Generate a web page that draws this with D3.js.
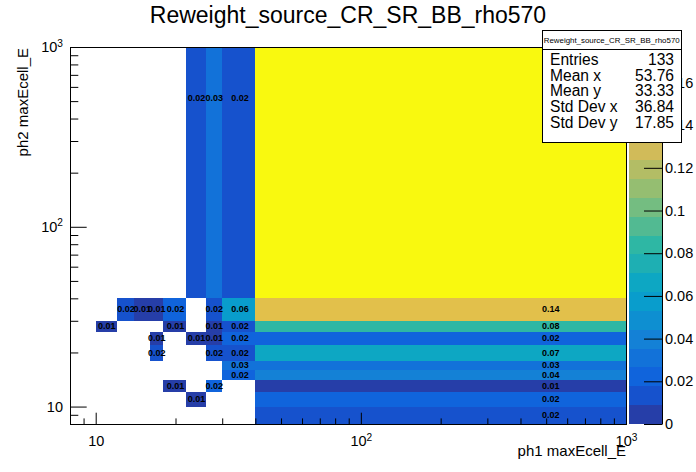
<html>

<head>
    <style>
        body { margin: 0; background: white; }
        text { font-family: "Liberation Sans", Arial, sans-serif; fill: black; }
        .cellText { font-size: 9px; font-weight: bold; }
        .tick line, .domain { stroke: black; }
    </style>
</head>

<body>
    <svg id="container" height="472" width="696"></svg>
</body>
<script src="https://cdn.jsdelivr.net/npm/d3@7"></script>
<script>
    // bin edges, same binning on both axes
    let xEdges = [8, 10, 12, 14, 16, 18, 22, 26, 30, 40, 1000]
    let yEdges = [8, 10, 12, 14, 16, 18, 22, 26, 30, 40, 1000]

    // bin contents, one row per y bin (bottom to top), null = empty bin
    let content = [
        [null, null, null, null, null, null, null, null, null, 0.016],
        [null, null, null, null, null, null, 0.008, null, null, 0.021],
        [null, null, null, null, null, 0.008, null, 0.021, null, 0.008],
        [null, null, null, null, null, null, null, null, 0.021, 0.040],
        [null, null, null, null, null, null, null, null, 0.029, 0.029],
        [null, null, null, null, 0.016, null, null, 0.016, 0.016, 0.068],
        [null, null, null, null, 0.008, null, 0.008, 0.008, 0.021, 0.021],
        [null, 0.008, null, null, null, 0.008, null, 0.008, 0.016, 0.081],
        [null, null, 0.016, 0.008, 0.008, 0.021, null, 0.016, 0.058, 0.138],
        [null, null, null, null, null, null, 0.016, 0.029, 0.016, 0.1766]
    ]

    let xMajor = [10, 100, 1000]
    let xMinor = [9, 20, 30, 40, 50, 60, 70, 80, 90, 200, 300, 400, 500, 600, 700, 800, 900]
    let yMajor = [10, 100, 1000]
    let yMinor = [9, 20, 30, 40, 50, 60, 70, 80, 90, 200, 300, 400, 500, 600, 700, 800, 900]
    let zTicks = [0, 0.02, 0.04, 0.06, 0.08, 0.1, 0.12, 0.14, 0.16]

    let histName = "Reweight_source_CR_SR_BB_rho570"
    let statsLabels = ["Entries", "Mean x", "Mean y", "Std Dev x", "Std Dev y"]
    let statsValues = ["133", "53.76", "33.33", "36.84", "17.85"]

    let svg = d3.select("#container")
    let fLeft = 70, fRight = 626, fTop = 47, fBottom = 424

    // kBird palette, built the same way ROOT does (255 colours)
    let stops = [0.0, 0.125, 0.25, 0.375, 0.5, 0.625, 0.75, 0.875, 1.0]
    let red = [0.2082, 0.0592, 0.0780, 0.0232, 0.1802, 0.5301, 0.8186, 0.9956, 0.9764]
    let green = [0.1664, 0.3599, 0.5041, 0.6419, 0.7178, 0.7492, 0.7328, 0.7862, 0.9832]
    let blue = [0.5293, 0.8684, 0.8385, 0.7914, 0.6425, 0.4662, 0.3499, 0.1968, 0.0539]
    let nColors = 255
    let palette = []
    for (let g = 1; g < stops.length; g++) {
        let s = Math.floor(nColors * stops[g - 1])
        let n = Math.floor(nColors * stops[g]) - s
        for (let c = 0; c < n; c++) {
            let f = c / n
            palette.push(d3.rgb(
                255 * (red[g - 1] + f * (red[g] - red[g - 1])),
                255 * (green[g - 1] + f * (green[g] - green[g - 1])),
                255 * (blue[g - 1] + f * (blue[g] - blue[g - 1]))).formatHex())
        }
    }

    let nLevels = 20
    let zMax = d3.max(content.flat())
    function levelColor(level) {
        let idx = Math.floor((level + 0.99) * nColors / nLevels)
        return palette[Math.min(idx, nColors - 1)]
    }
    function zLevel(z) {
        return Math.min(Math.floor(0.01 + z / zMax * nLevels), nLevels)
    }

    let xScale = d3.scaleLog().domain([8, 1000]).range([fLeft, fRight])
    let yScale = d3.scaleLog().domain([8, 1000]).range([fBottom, fTop])

    let cells = []
    content.forEach((row, j) => row.forEach((z, i) => {
        if (z !== null) cells.push({ i: i, j: j, z: z })
    }))

    // coloured bins
    svg.append("g").selectAll("rect").data(cells).join("rect")
        .attr("x", d => xScale(xEdges[d.i]))
        .attr("y", d => yScale(yEdges[d.j + 1]))
        .attr("width", d => xScale(xEdges[d.i + 1]) - xScale(xEdges[d.i]))
        .attr("height", d => yScale(yEdges[d.j]) - yScale(yEdges[d.j + 1]))
        .attr("fill", d => levelColor(zLevel(d.z)))
        .attr("shape-rendering", "crispEdges")

    // bin content text at (linear) bin centre
    svg.append("g").selectAll("text").data(cells).join("text")
        .attr("class", "cellText")
        .attr("x", d => xScale((xEdges[d.i] + xEdges[d.i + 1]) / 2))
        .attr("y", d => yScale((yEdges[d.j] + yEdges[d.j + 1]) / 2))
        .attr("dy", "0.35em")
        .attr("text-anchor", "middle")
        .text(d => d3.format(".2f")(d.z))

    function powLabels(g) {
        g.selectAll(".tick text").each(function (d) {
            let e = Math.round(Math.log10(d))
            let t = d3.select(this).text("")
            if (e === 1) { t.text("10"); return }
            t.append("tspan").text("10")
            t.append("tspan").attr("dy", "-0.55em").attr("font-size", "70%").text(e)
        })
    }

    // x axis
    let xMin = svg.append("g").attr("transform", "translate(0," + fBottom + ")")
        .call(d3.axisBottom(xScale).tickValues(xMinor).tickSize(-5.6).tickFormat(""))
    xMin.select(".domain").remove()
    let xMaj = svg.append("g").attr("transform", "translate(0," + fBottom + ")")
        .call(d3.axisBottom(xScale).tickValues(xMajor).tickSize(-11.3).tickPadding(12))
    xMaj.select(".domain").remove()
    xMaj.attr("font-size", 14.5).attr("font-family", null)
    powLabels(xMaj)

    // y axis
    let yMin = svg.append("g").attr("transform", "translate(" + fLeft + ",0)")
        .call(d3.axisLeft(yScale).tickValues(yMinor).tickSize(-8.3).tickFormat(""))
    yMin.select(".domain").remove()
    let yMaj = svg.append("g").attr("transform", "translate(" + fLeft + ",0)")
        .call(d3.axisLeft(yScale).tickValues(yMajor).tickSize(-16.7).tickPadding(7))
    yMaj.select(".domain").remove()
    yMaj.attr("font-size", 14.5).attr("font-family", null)
    powLabels(yMaj)

    // frame
    svg.append("rect")
        .attr("x", fLeft).attr("y", fTop)
        .attr("width", fRight - fLeft).attr("height", fBottom - fTop)
        .attr("fill", "none").attr("stroke", "black")
        .attr("shape-rendering", "crispEdges")

    // palette
    let palLeft = 629, palRight = 662
    let zScale = d3.scaleLinear().domain([0, zMax]).range([fBottom, fTop])
    svg.append("g").selectAll("rect").data(d3.range(nLevels)).join("rect")
        .attr("x", palLeft)
        .attr("y", k => zScale((k + 1) * zMax / nLevels))
        .attr("width", palRight - palLeft)
        .attr("height", k => zScale(k * zMax / nLevels) - zScale((k + 1) * zMax / nLevels))
        .attr("fill", k => levelColor(k))
        .attr("shape-rendering", "crispEdges")

    let zAxis = svg.append("g").attr("transform", "translate(" + palRight + ",0)")
        .call(d3.axisRight(zScale).tickValues(zTicks).tickSize(-18).tickSizeOuter(0).tickPadding(3)
            .tickFormat(d => d3.format(".2~f")(d)))
    zAxis.attr("font-size", 14.5).attr("font-family", null)

    // titles
    svg.append("text")
        .attr("x", 348).attr("y", 23)
        .attr("text-anchor", "middle")
        .attr("font-size", 23)
        .text(histName)

    svg.append("text")
        .attr("x", fRight).attr("y", 456)
        .attr("text-anchor", "end")
        .attr("font-size", 15)
        .text("ph1 maxEcell_E")

    svg.append("text")
        .attr("transform", "translate(27.5," + (fTop + 1) + ") rotate(-90)")
        .attr("text-anchor", "end")
        .attr("font-size", 15)
        .text("ph2 maxEcell_E")

    // stats box
    let stats = svg.append("g")
    stats.append("rect")
        .attr("x", 542.5).attr("y", 30.5)
        .attr("width", 138.5).attr("height", 112)
        .attr("fill", "white").attr("stroke", "black")
        .attr("shape-rendering", "crispEdges")
    stats.append("line")
        .attr("x1", 542.5).attr("x2", 681).attr("y1", 49.5).attr("y2", 49.5)
        .attr("stroke", "black").attr("shape-rendering", "crispEdges")
    stats.append("text")
        .attr("x", 611.7).attr("y", 40).attr("dy", "0.35em")
        .attr("text-anchor", "middle").attr("font-size", 7.9)
        .text(histName)
    stats.selectAll(".lab").data(statsLabels).join("text")
        .attr("class", "lab")
        .attr("x", 550).attr("y", (d, i) => 59.3 + i * 15.75).attr("dy", "0.35em")
        .attr("font-size", 15.6)
        .text(d => d)
    stats.selectAll(".val").data(statsValues).join("text")
        .attr("class", "val")
        .attr("x", 674).attr("y", (d, i) => 59.3 + i * 15.75).attr("dy", "0.35em")
        .attr("text-anchor", "end")
        .attr("font-size", 15.6)
        .text(d => d)
</script>

</html>
